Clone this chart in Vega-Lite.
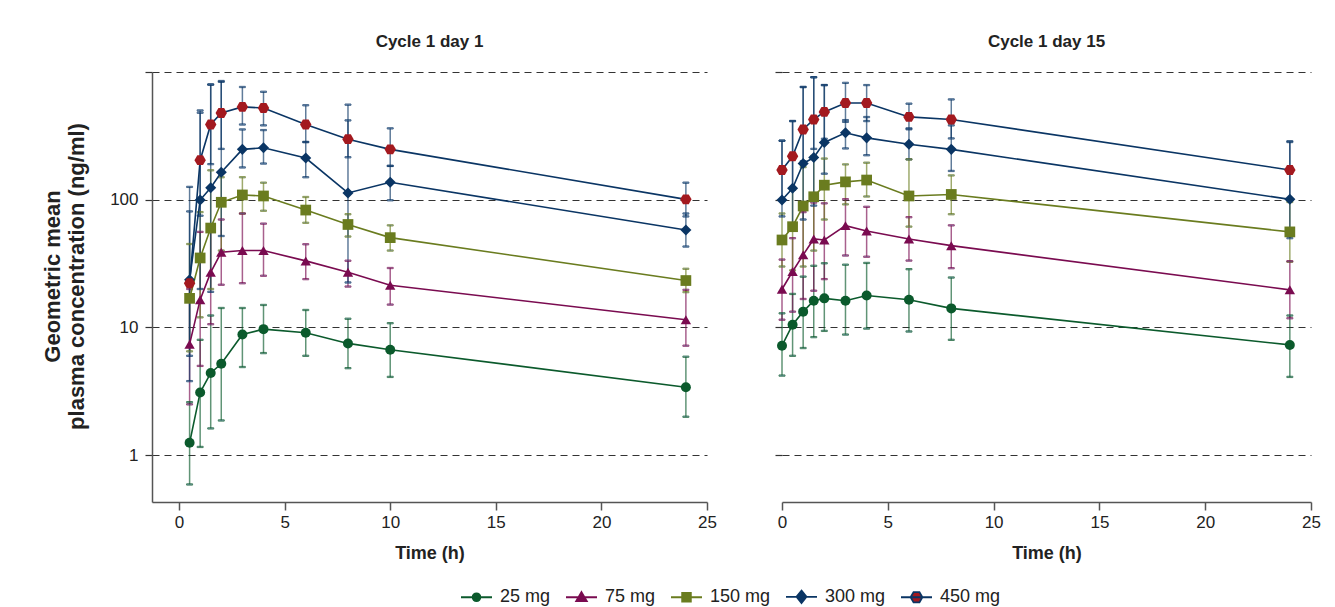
{
  "$schema": "https://vega.github.io/schema/vega-lite/v6.json",
  "background": "white",
  "padding": {"left": 41, "top": 33, "right": 10, "bottom": 5},
  "bounds": "flush",
  "spacing": 75,
  "datasets": {
    "day1": [
      {"dose":"25 mg","t":0.5,"gm":1.25,"lo":0.59,"hi":2.6},
      {"dose":"25 mg","t":1,"gm":3.1,"lo":1.16,"hi":8.0},
      {"dose":"25 mg","t":1.5,"gm":4.4,"lo":1.62,"hi":12.4},
      {"dose":"25 mg","t":2,"gm":5.2,"lo":1.87,"hi":14.2},
      {"dose":"25 mg","t":3,"gm":8.8,"lo":4.9,"hi":14.2},
      {"dose":"25 mg","t":4,"gm":9.7,"lo":6.3,"hi":15.0},
      {"dose":"25 mg","t":6,"gm":9.1,"lo":6.0,"hi":13.7},
      {"dose":"25 mg","t":8,"gm":7.5,"lo":4.8,"hi":11.7},
      {"dose":"25 mg","t":10,"gm":6.7,"lo":4.1,"hi":10.8},
      {"dose":"25 mg","t":24,"gm":3.4,"lo":2.0,"hi":5.9},
      {"dose":"75 mg","t":0.5,"gm":7.4,"lo":2.5,"hi":20},
      {"dose":"75 mg","t":1,"gm":16.5,"lo":5.0,"hi":56},
      {"dose":"75 mg","t":1.5,"gm":27,"lo":10.6,"hi":62},
      {"dose":"75 mg","t":2,"gm":38.8,"lo":21.6,"hi":70},
      {"dose":"75 mg","t":3,"gm":40,"lo":22.2,"hi":78},
      {"dose":"75 mg","t":4,"gm":40,"lo":25.4,"hi":65},
      {"dose":"75 mg","t":6,"gm":33.2,"lo":23.9,"hi":44.8},
      {"dose":"75 mg","t":8,"gm":27.1,"lo":20.9,"hi":33.3},
      {"dose":"75 mg","t":10,"gm":21.4,"lo":15.1,"hi":29.2},
      {"dose":"75 mg","t":24,"gm":11.5,"lo":7.2,"hi":19.7},
      {"dose":"150 mg","t":0.5,"gm":16.9,"lo":6.5,"hi":45},
      {"dose":"150 mg","t":1,"gm":35,"lo":12,"hi":80},
      {"dose":"150 mg","t":1.5,"gm":60,"lo":20,"hi":170},
      {"dose":"150 mg","t":2,"gm":95.5,"lo":40,"hi":150},
      {"dose":"150 mg","t":3,"gm":109,"lo":78,"hi":150},
      {"dose":"150 mg","t":4,"gm":107,"lo":82,"hi":136},
      {"dose":"150 mg","t":6,"gm":83,"lo":66,"hi":105},
      {"dose":"150 mg","t":8,"gm":64,"lo":51.5,"hi":77},
      {"dose":"150 mg","t":10,"gm":50.5,"lo":40,"hi":63},
      {"dose":"150 mg","t":24,"gm":23.3,"lo":18.9,"hi":28.8},
      {"dose":"300 mg","t":0.5,"gm":23.6,"lo":3.8,"hi":126},
      {"dose":"300 mg","t":1,"gm":99.5,"lo":20,"hi":480},
      {"dose":"300 mg","t":1.5,"gm":124,"lo":19,"hi":795},
      {"dose":"300 mg","t":2,"gm":164,"lo":52,"hi":838},
      {"dose":"300 mg","t":3,"gm":248,"lo":179,"hi":355},
      {"dose":"300 mg","t":4,"gm":255,"lo":192,"hi":351},
      {"dose":"300 mg","t":6,"gm":212,"lo":150,"hi":283},
      {"dose":"300 mg","t":8,"gm":113,"lo":22.5,"hi":418},
      {"dose":"300 mg","t":10,"gm":137,"lo":99,"hi":184},
      {"dose":"300 mg","t":24,"gm":58,"lo":43,"hi":78},
      {"dose":"450 mg","t":0.5,"gm":22.2,"lo":6,"hi":81},
      {"dose":"450 mg","t":1,"gm":204,"lo":75,"hi":500},
      {"dose":"450 mg","t":1.5,"gm":388,"lo":190,"hi":800},
      {"dose":"450 mg","t":2,"gm":478,"lo":250,"hi":850},
      {"dose":"450 mg","t":3,"gm":533,"lo":388,"hi":763},
      {"dose":"450 mg","t":4,"gm":523,"lo":382,"hi":700},
      {"dose":"450 mg","t":6,"gm":388,"lo":283,"hi":549},
      {"dose":"450 mg","t":8,"gm":298,"lo":215,"hi":555},
      {"dose":"450 mg","t":10,"gm":248,"lo":184,"hi":362},
      {"dose":"450 mg","t":24,"gm":100.7,"lo":74,"hi":136}
    ],
    "day15": [
      {"dose":"25 mg","t":0,"gm":7.2,"lo":4.2,"hi":12.9},
      {"dose":"25 mg","t":0.5,"gm":10.5,"lo":6.0,"hi":18.3},
      {"dose":"25 mg","t":1,"gm":13.3,"lo":6.9,"hi":25},
      {"dose":"25 mg","t":1.5,"gm":16.2,"lo":8.4,"hi":30.4},
      {"dose":"25 mg","t":2,"gm":16.9,"lo":9.4,"hi":31.8},
      {"dose":"25 mg","t":3,"gm":16.2,"lo":8.8,"hi":31},
      {"dose":"25 mg","t":4,"gm":17.8,"lo":9.8,"hi":32},
      {"dose":"25 mg","t":6,"gm":16.5,"lo":9.3,"hi":28.6},
      {"dose":"25 mg","t":8,"gm":14.1,"lo":8.0,"hi":24.6},
      {"dose":"25 mg","t":24,"gm":7.3,"lo":4.1,"hi":12.4},
      {"dose":"75 mg","t":0,"gm":19.9,"lo":11.5,"hi":34},
      {"dose":"75 mg","t":0.5,"gm":27.4,"lo":13.3,"hi":50},
      {"dose":"75 mg","t":1,"gm":37,"lo":16.7,"hi":80},
      {"dose":"75 mg","t":1.5,"gm":49.3,"lo":19.4,"hi":95},
      {"dose":"75 mg","t":2,"gm":48.4,"lo":23.9,"hi":93.7},
      {"dose":"75 mg","t":3,"gm":62.7,"lo":36.6,"hi":101},
      {"dose":"75 mg","t":4,"gm":56.9,"lo":35.8,"hi":88},
      {"dose":"75 mg","t":6,"gm":49.3,"lo":33.4,"hi":73},
      {"dose":"75 mg","t":8,"gm":43.7,"lo":29.1,"hi":63},
      {"dose":"75 mg","t":24,"gm":19.7,"lo":11.8,"hi":33},
      {"dose":"150 mg","t":0,"gm":48.4,"lo":30,"hi":78},
      {"dose":"150 mg","t":0.5,"gm":61.5,"lo":28,"hi":120},
      {"dose":"150 mg","t":1,"gm":89.3,"lo":30,"hi":180},
      {"dose":"150 mg","t":1.5,"gm":105.5,"lo":40,"hi":220},
      {"dose":"150 mg","t":2,"gm":130,"lo":70,"hi":210},
      {"dose":"150 mg","t":3,"gm":138,"lo":92,"hi":189},
      {"dose":"150 mg","t":4,"gm":142.6,"lo":106,"hi":195},
      {"dose":"150 mg","t":6,"gm":107,"lo":61.6,"hi":207},
      {"dose":"150 mg","t":8,"gm":110,"lo":77,"hi":155},
      {"dose":"150 mg","t":24,"gm":56,"lo":32.7,"hi":96},
      {"dose":"300 mg","t":0,"gm":99.5,"lo":74,"hi":290},
      {"dose":"300 mg","t":0.5,"gm":123,"lo":60,"hi":413},
      {"dose":"300 mg","t":1,"gm":192,"lo":70,"hi":763},
      {"dose":"300 mg","t":1.5,"gm":214,"lo":90,"hi":910},
      {"dose":"300 mg","t":2,"gm":281,"lo":160,"hi":790},
      {"dose":"300 mg","t":3,"gm":334,"lo":252,"hi":420},
      {"dose":"300 mg","t":4,"gm":305,"lo":223,"hi":444},
      {"dose":"300 mg","t":6,"gm":272,"lo":207,"hi":362},
      {"dose":"300 mg","t":8,"gm":248,"lo":168,"hi":382},
      {"dose":"300 mg","t":24,"gm":100.7,"lo":50,"hi":283},
      {"dose":"450 mg","t":0,"gm":171,"lo":100,"hi":290},
      {"dose":"450 mg","t":0.5,"gm":219,"lo":120,"hi":413},
      {"dose":"450 mg","t":1,"gm":355,"lo":200,"hi":763},
      {"dose":"450 mg","t":1.5,"gm":425,"lo":250,"hi":910},
      {"dose":"450 mg","t":2,"gm":487,"lo":300,"hi":790},
      {"dose":"450 mg","t":3,"gm":572,"lo":407,"hi":822},
      {"dose":"450 mg","t":4,"gm":572,"lo":413,"hi":790},
      {"dose":"450 mg","t":6,"gm":445,"lo":356,"hi":565},
      {"dose":"450 mg","t":8,"gm":425,"lo":302,"hi":610},
      {"dose":"450 mg","t":24,"gm":171,"lo":100,"hi":287}
    ]
  },
  "hconcat": [
    {
      "width": 555,
      "height": 430,
      "title": {"text": "Cycle 1 day 1"},
      "data": {"name": "day1"},
      "resolve": {"scale": {"fill": "independent", "stroke": "independent", "shape": "independent"}},
      "layer": [
        {
          "mark": {"type": "rule", "strokeWidth": 1.5, "opacity": 0.65},
          "encoding": {
            "x": {"field": "t", "type": "quantitative", "scale": {"domain": [-1.28, 25], "nice": false, "zero": false}, "axis": {"title": "Time (h)", "values": [0, 5, 10, 15, 20, 25], "grid": false, "domainColor": "#555", "domainWidth": 1.5, "tickColor": "#555", "tickWidth": 1.5, "tickSize": 8, "labelFontSize": 17, "labelPadding": 4, "labelFlush": false, "titleFontSize": 18, "titleFontWeight": "bold", "titlePadding": 14}},
            "y": {"field": "lo", "type": "quantitative", "scale": {"type": "log", "domain": [0.43, 1000], "nice": false}, "axis": {"title": ["Geometric mean", "plasma concentration (ng/ml)"], "values": [1, 10, 100, 1000], "format": "d", "labelExpr": "datum.value >= 1000 ? '' : datum.label", "grid": true, "gridDash": [7, 5], "gridColor": "#333", "gridWidth": 1.2, "tickDash": [7, 5], "tickColor": "#333", "tickWidth": 1.2, "tickSize": 9, "domainColor": "#555", "domainWidth": 1.5, "labelFontSize": 17, "labelPadding": 5, "titleFontSize": 22, "titleFontWeight": "bold", "titleLineHeight": 24, "titlePadding": 21, "titleY": 204}},
            "y2": {"field": "hi"},
            "stroke": {"field": "dose", "type": "nominal", "scale": {"domain": ["25 mg", "75 mg", "150 mg", "300 mg", "450 mg"], "range": ["#0b5a2c", "#7a0b50", "#6a7c1f", "#0a3564", "#0a3564"]}, "legend": null}
          }
        },
        {
          "mark": {"type": "tick", "orient": "horizontal", "size": 6, "thickness": 1.3, "opacity": 0.75},
          "encoding": {
            "x": {"field": "t", "type": "quantitative"},
            "y": {"field": "lo", "type": "quantitative"},
            "stroke": {"field": "dose", "type": "nominal", "scale": {"domain": ["25 mg", "75 mg", "150 mg", "300 mg", "450 mg"], "range": ["#0b5a2c", "#7a0b50", "#6a7c1f", "#0a3564", "#0a3564"]}, "legend": null}
          }
        },
        {
          "mark": {"type": "tick", "orient": "horizontal", "size": 6, "thickness": 1.3, "opacity": 0.75},
          "encoding": {
            "x": {"field": "t", "type": "quantitative"},
            "y": {"field": "hi", "type": "quantitative"},
            "stroke": {"field": "dose", "type": "nominal", "scale": {"domain": ["25 mg", "75 mg", "150 mg", "300 mg", "450 mg"], "range": ["#0b5a2c", "#7a0b50", "#6a7c1f", "#0a3564", "#0a3564"]}, "legend": null}
          }
        },
        {
          "mark": {"type": "line", "strokeWidth": 1.6},
          "encoding": {
            "x": {"field": "t", "type": "quantitative"},
            "y": {"field": "gm", "type": "quantitative"},
            "stroke": {"field": "dose", "type": "nominal", "scale": {"domain": ["25 mg", "75 mg", "150 mg", "300 mg", "450 mg"], "range": ["#0b5a2c", "#7a0b50", "#6a7c1f", "#0a3564", "#0a3564"]}, "legend": null}
          }
        },
        {
          "mark": {"type": "point", "filled": true, "opacity": 1},
          "encoding": {
            "x": {"field": "t", "type": "quantitative"},
            "y": {"field": "gm", "type": "quantitative"},
            "fill": {"field": "dose", "type": "nominal", "scale": {"domain": ["25 mg", "75 mg", "150 mg", "300 mg", "450 mg"], "range": ["#0b5a2c", "#7a0b50", "#6a7c1f", "#0a3564", "#a3191f"]}, "legend": null},
            "shape": {"field": "dose", "type": "nominal", "scale": {"domain": ["25 mg", "75 mg", "150 mg", "300 mg", "450 mg"], "range": ["circle", "triangle-up", "square", "diamond", "M-1,0L-0.5,-0.866L0.5,-0.866L1,0L0.5,0.866L-0.5,0.866Z"]}, "legend": null},
            "size": {"field": "dose", "type": "nominal", "scale": {"domain": ["25 mg", "75 mg", "150 mg", "300 mg", "450 mg"], "range": [100, 130, 120, 170, 175]}, "legend": null}
          }
        },
        {
          "transform": [{"filter": "datum.t < -50"}],
          "mark": {"type": "point", "filled": true, "opacity": 1, "size": 961, "strokeWidth": 1.8},
          "encoding": {
            "x": {"field": "t", "type": "quantitative"},
            "y": {"field": "gm", "type": "quantitative"},
            "fill": {"field": "dose", "type": "nominal", "scale": {"domain": ["25 mg", "75 mg", "150 mg", "300 mg", "450 mg"], "range": ["#0b5a2c", "#7a0b50", "#6a7c1f", "#0a3564", "#a3191f"]}, "legend": {"orient": "none", "legendX": 308, "legendY": 508, "direction": "horizontal", "title": null, "labelFontSize": 18, "labelColor": "#222", "symbolSize": 961, "symbolStrokeWidth": 1.8, "symbolOpacity": 1, "labelOffset": 7, "columnPadding": 11}},
            "stroke": {"field": "dose", "type": "nominal", "scale": {"domain": ["25 mg", "75 mg", "150 mg", "300 mg", "450 mg"], "range": ["#0b5a2c", "#7a0b50", "#6a7c1f", "#0a3564", "#0a3564"]}, "legend": {"orient": "none", "legendX": 308, "legendY": 508, "direction": "horizontal", "title": null, "labelFontSize": 18, "labelColor": "#222", "symbolSize": 961, "symbolStrokeWidth": 1.8, "symbolOpacity": 1, "labelOffset": 7, "columnPadding": 11}},
            "shape": {"field": "dose", "type": "nominal", "scale": {"domain": ["25 mg", "75 mg", "150 mg", "300 mg", "450 mg"], "range": ["M-1,0H1M0.25,0A0.25,0.25 0 1,1 -0.25,0A0.25,0.25 0 1,1 0.25,0Z", "M-1,0H1M0,-0.33L0.34,0.25L-0.34,0.25Z", "M-1,0H1M-0.28,-0.28H0.28V0.28H-0.28Z", "M-1,0H1M0,-0.4L0.32,0L0,0.4L-0.32,0Z", "M-1,0H1M-0.38,0L-0.19,-0.33L0.19,-0.33L0.38,0L0.19,0.33L-0.19,0.33Z"]}, "legend": {"orient": "none", "legendX": 308, "legendY": 508, "direction": "horizontal", "title": null, "labelFontSize": 18, "labelColor": "#222", "symbolSize": 961, "symbolStrokeWidth": 1.8, "symbolOpacity": 1, "labelOffset": 7, "columnPadding": 11}}
          }
        }
      ]
    },
    {
      "width": 529,
      "height": 430,
      "title": {"text": "Cycle 1 day 15"},
      "data": {"name": "day15"},
      "layer": [
        {
          "mark": {"type": "rule", "strokeWidth": 1.5, "opacity": 0.65},
          "encoding": {
            "x": {"field": "t", "type": "quantitative", "scale": {"domain": [0, 25], "nice": false, "zero": false}, "axis": {"title": "Time (h)", "values": [0, 5, 10, 15, 20, 25], "grid": false, "domainColor": "#555", "domainWidth": 1.5, "tickColor": "#555", "tickWidth": 1.5, "tickSize": 8, "labelFontSize": 17, "labelPadding": 4, "labelFlush": false, "titleFontSize": 18, "titleFontWeight": "bold", "titlePadding": 14}},
            "y": {"field": "lo", "type": "quantitative", "scale": {"type": "log", "domain": [0.43, 1000], "nice": false}, "axis": {"title": null, "values": [1, 10, 100, 1000], "labels": false, "domain": false, "grid": true, "gridDash": [7, 5], "gridColor": "#333", "gridWidth": 1.2, "tickDash": [7, 5], "tickColor": "#333", "tickWidth": 1.2, "tickSize": 12}},
            "y2": {"field": "hi"},
            "stroke": {"field": "dose", "type": "nominal", "scale": {"domain": ["25 mg", "75 mg", "150 mg", "300 mg", "450 mg"], "range": ["#0b5a2c", "#7a0b50", "#6a7c1f", "#0a3564", "#0a3564"]}, "legend": null}
          }
        },
        {
          "mark": {"type": "tick", "orient": "horizontal", "size": 6, "thickness": 1.3, "opacity": 0.75},
          "encoding": {
            "x": {"field": "t", "type": "quantitative"},
            "y": {"field": "lo", "type": "quantitative"},
            "stroke": {"field": "dose", "type": "nominal", "legend": null}
          }
        },
        {
          "mark": {"type": "tick", "orient": "horizontal", "size": 6, "thickness": 1.3, "opacity": 0.75},
          "encoding": {
            "x": {"field": "t", "type": "quantitative"},
            "y": {"field": "hi", "type": "quantitative"},
            "stroke": {"field": "dose", "type": "nominal", "legend": null}
          }
        },
        {
          "mark": {"type": "line", "strokeWidth": 1.6},
          "encoding": {
            "x": {"field": "t", "type": "quantitative"},
            "y": {"field": "gm", "type": "quantitative"},
            "stroke": {"field": "dose", "type": "nominal", "legend": null}
          }
        },
        {
          "mark": {"type": "point", "filled": true, "opacity": 1},
          "encoding": {
            "x": {"field": "t", "type": "quantitative"},
            "y": {"field": "gm", "type": "quantitative"},
            "fill": {"field": "dose", "type": "nominal", "scale": {"domain": ["25 mg", "75 mg", "150 mg", "300 mg", "450 mg"], "range": ["#0b5a2c", "#7a0b50", "#6a7c1f", "#0a3564", "#a3191f"]}, "legend": null},
            "shape": {"field": "dose", "type": "nominal", "scale": {"domain": ["25 mg", "75 mg", "150 mg", "300 mg", "450 mg"], "range": ["circle", "triangle-up", "square", "diamond", "M-1,0L-0.5,-0.866L0.5,-0.866L1,0L0.5,0.866L-0.5,0.866Z"]}, "legend": null},
            "size": {"field": "dose", "type": "nominal", "scale": {"domain": ["25 mg", "75 mg", "150 mg", "300 mg", "450 mg"], "range": [100, 130, 120, 170, 175]}, "legend": null}
          }
        }
      ]
    }
  ],
  "resolve": {"scale": {"x": "independent", "y": "independent", "fill": "independent", "stroke": "independent", "shape": "independent", "size": "independent"}},
  "config": {
    "font": "Liberation Sans",
    "view": {"stroke": null},
    "title": {"fontSize": 17, "fontWeight": "bold", "color": "#222", "offset": 20, "anchor": "middle"},
    "axis": {"labelColor": "#222", "titleColor": "#222"}
  }
}
